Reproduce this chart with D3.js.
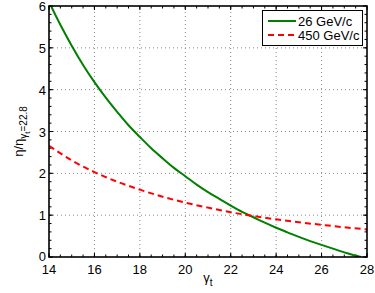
<!DOCTYPE html>
<html>
<head>
<meta charset="utf-8">
<script src="https://cdn.jsdelivr.net/npm/d3@7"></script>
<style>
body { margin: 0; background: #fff; }
text { font-family: "Liberation Sans", Arial, sans-serif; }
</style>
</head>
<body>
<div id="chart"></div>
<script>
// gamma_t values and eta ratio
var gammaLow = [14, 14.5, 15, 15.5, 16, 16.5, 17, 17.5, 18, 18.5, 19, 19.5, 20, 20.5, 21, 21.5,
                22, 22.5, 23, 23.5, 24, 24.5, 25, 25.5, 26, 26.5, 27, 27.5, 27.73];
var eta26 = [6.10, 5.55, 5.05, 4.59, 4.18, 3.81, 3.47, 3.15, 2.87, 2.60, 2.36, 2.13, 1.93, 1.73, 1.55, 1.39,
             1.23, 1.08, 0.95, 0.82, 0.70, 0.59, 0.48, 0.38, 0.29, 0.20, 0.11, 0.035, 0];
var gammaHigh = [14, 15, 16, 17, 18, 19, 20, 21, 22, 23, 24, 25, 26, 27, 28];
var eta450 = [2.66, 2.31, 2.03, 1.80, 1.61, 1.44, 1.30, 1.18, 1.07, 0.98, 0.90, 0.83, 0.77, 0.71, 0.66];
var xTicks = [14, 16, 18, 20, 22, 24, 26, 28];
var yTicks = [0, 1, 2, 3, 4, 5, 6];
var seriesNames = ["26 GeV/c", "450 GeV/c"];

var width = 375, height = 293;
var margin = {top: 6, right: 8, bottom: 36, left: 49};

var svg = d3.select("#chart")
            .append("svg")
            .attr("width", width)
            .attr("height", height);

var x = d3.scaleLinear().domain([14, 28]).range([margin.left, width - margin.right]);
var y = d3.scaleLinear().domain([0, 6]).range([height - margin.bottom, margin.top]);

var x0 = x.range()[0], x1 = x.range()[1];
var y0 = y.range()[0], y1 = y.range()[1];

// grid
svg.selectAll("line.gx")
   .data(xTicks.slice(1, -1))
   .enter()
   .append("line")
   .attr("x1", function(d) { return x(d); })
   .attr("x2", function(d) { return x(d); })
   .attr("y1", y0)
   .attr("y2", y1)
   .attr("stroke", "#8a8a8a")
   .attr("stroke-width", 1)
   .attr("stroke-dasharray", "1,3");

svg.selectAll("line.gy")
   .data(yTicks.slice(1, -1))
   .enter()
   .append("line")
   .attr("x1", x0)
   .attr("x2", x1)
   .attr("y1", function(d) { return y(d); })
   .attr("y2", function(d) { return y(d); })
   .attr("stroke", "#8a8a8a")
   .attr("stroke-width", 1)
   .attr("stroke-dasharray", "1,3");

// inward ticks on all four sides, major and minor
var minorX = d3.range(14, 28.01, 0.5);
var minorY = d3.range(0, 6.01, 0.2);

function addXTicks(vals, len) {
  [y0, y1].forEach(function(yy, i) {
    var dir = i === 0 ? -1 : 1;
    svg.append("g").selectAll("line")
       .data(vals)
       .enter()
       .append("line")
       .attr("x1", function(d) { return x(d); })
       .attr("x2", function(d) { return x(d); })
       .attr("y1", yy)
       .attr("y2", yy + dir * len)
       .attr("stroke", "#000")
       .attr("stroke-width", 1);
  });
}
function addYTicks(vals, len) {
  [x0, x1].forEach(function(xx, i) {
    var dir = i === 0 ? 1 : -1;
    svg.append("g").selectAll("line")
       .data(vals)
       .enter()
       .append("line")
       .attr("x1", xx)
       .attr("x2", xx + dir * len)
       .attr("y1", function(d) { return y(d); })
       .attr("y2", function(d) { return y(d); })
       .attr("stroke", "#000")
       .attr("stroke-width", 1);
  });
}
addXTicks(minorX, 2.5);
addYTicks(minorY, 2.5);
addXTicks(xTicks, 4);
addYTicks(yTicks, 4);

// curves
svg.append("clipPath")
   .attr("id", "plotclip")
   .append("rect")
   .attr("x", x0)
   .attr("y", y1)
   .attr("width", x1 - x0)
   .attr("height", y0 - y1);

var line = d3.line()
             .x(function(d) { return x(d[0]); })
             .y(function(d) { return y(d[1]); })
             .curve(d3.curveMonotoneX);

svg.append("path")
   .datum(d3.zip(gammaLow, eta26))
   .attr("d", line)
   .attr("clip-path", "url(#plotclip)")
   .attr("fill", "none")
   .attr("stroke", "#007f00")
   .attr("stroke-width", 2);

svg.append("path")
   .datum(d3.zip(gammaHigh, eta450))
   .attr("d", line)
   .attr("clip-path", "url(#plotclip)")
   .attr("fill", "none")
   .attr("stroke", "#ff0000")
   .attr("stroke-width", 2)
   .attr("stroke-dasharray", "6,4");

// box
svg.append("rect")
   .attr("x", x0)
   .attr("y", y1)
   .attr("width", x1 - x0)
   .attr("height", y0 - y1)
   .attr("fill", "none")
   .attr("stroke", "#000")
   .attr("stroke-width", 1.6);

// tick labels
svg.selectAll("text.xt")
   .data(xTicks)
   .enter()
   .append("text")
   .text(function(d) { return d; })
   .attr("x", function(d) { return x(d); })
   .attr("y", y0 + 16.5)
   .attr("text-anchor", "middle")
   .attr("font-size", "13px");

svg.selectAll("text.yt")
   .data(yTicks)
   .enter()
   .append("text")
   .text(function(d) { return d; })
   .attr("x", x0 - 3)
   .attr("y", function(d) { return y(d) + (d === 0 ? 3.5 : 5); })
   .attr("text-anchor", "end")
   .attr("font-size", "13px");

// axis labels
var xl = svg.append("text")
            .attr("x", (x0 + x1) / 2)
            .attr("y", 282)
            .attr("text-anchor", "middle")
            .attr("font-size", "13px");
xl.append("tspan").text("γ");
xl.append("tspan").text("t").attr("font-size", "10px").attr("dy", 4);

var yl = svg.append("text")
            .attr("transform", "translate(23," + ((y0 + y1) / 2) + ") rotate(-90)")
            .attr("text-anchor", "middle")
            .attr("font-size", "13px");
yl.append("tspan").text("η/η");
yl.append("tspan").text("γ").attr("font-size", "10px").attr("dy", 4);
yl.append("tspan").text("t").attr("font-size", "8px").attr("dy", 3);
yl.append("tspan").text("=22.8").attr("font-size", "10px").attr("dy", -3);

// legend
var lg = svg.append("g");
lg.append("rect")
  .attr("x", 262.5)
  .attr("y", 10.5)
  .attr("width", 100)
  .attr("height", 35)
  .attr("fill", "#fff")
  .attr("stroke", "#000")
  .attr("stroke-width", 1);

var legColors = ["#007f00", "#ff0000"];
var legDash = ["none", "6,4"];
seriesNames.forEach(function(name, i) {
  var ly = 21 + i * 14;
  lg.append("line")
    .attr("x1", 268)
    .attr("x2", 296)
    .attr("y1", ly)
    .attr("y2", ly)
    .attr("stroke", legColors[i])
    .attr("stroke-width", 2)
    .attr("stroke-dasharray", legDash[i]);
  lg.append("text")
    .text(name)
    .attr("x", 298)
    .attr("y", ly + 4.5)
    .attr("font-size", "13px");
});
</script>
</body>
</html>
